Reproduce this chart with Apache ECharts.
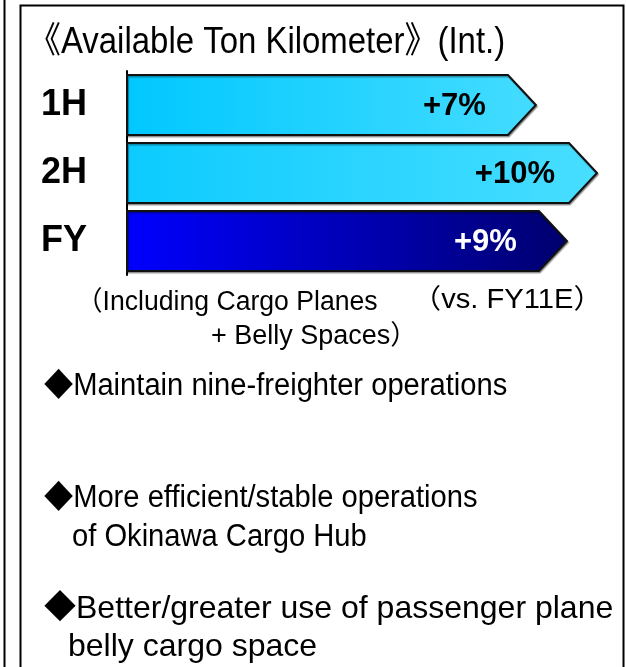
<!DOCTYPE html>
<html>
<head>
<meta charset="utf-8">
<script src="https://cdn.jsdelivr.net/npm/echarts@6/dist/echarts.min.js"></script>
<style>
  html, body { margin: 0; padding: 0; background: #fff; }
  #chart { width: 626px; height: 667px; }
</style>
</head>
<body>
<div id="chart"></div>
<script>
// ATK growth vs FY11E (international)
const periods = ['1H', '2H', 'FY'];
const growthLabels = ['+7%', '+10%', '+9%'];
// relative arrow length (2H = 100)
const arrowLength = [87, 100, 93.6];

const titleText = '《Available Ton Kilometer》(Int.)';
const noteLeft = ['（Including Cargo Planes', '+ Belly Spaces）'];
const noteRight = '（vs. FY11E）';
const bullets = [
  '◆Maintain nine-freighter operations',
  '◆More efficient/stable operations',
  'of Okinawa Cargo Hub',
  '◆Better/greater use of passenger plane',
  'belly cargo space'
];

const FONT = '"Liberation Sans", Arial, "Noto Sans CJK JP", sans-serif';

const fills = [
  new echarts.graphic.LinearGradient(0, 0, 1, 0, [
    { offset: 0, color: '#00c8ff' }, { offset: 1, color: '#44dcff' }
  ]),
  new echarts.graphic.LinearGradient(0, 0, 1, 0, [
    { offset: 0, color: '#0ccbff' }, { offset: 1, color: '#48deff' }
  ]),
  new echarts.graphic.LinearGradient(0, 0, 1, 0, [
    { offset: 0, color: '#0000ff' }, { offset: 1, color: '#00006e' }
  ])
];
const labelColors = ['#000', '#000', '#fff'];
const labelGap = [22, 14, 22];

const chart = echarts.init(document.getElementById('chart'));

function renderArrow(params, api) {
  const idx = api.value(0);
  const start = api.coord([0, idx]);
  const end = api.coord([api.value(1), idx]);
  const h = api.size([0, 1])[1] * 0.88;
  const tip = 28;
  const x0 = start[0], x1 = end[0], y = start[1];
  return {
    type: 'group',
    children: [
      {
        type: 'polygon',
        shape: {
          points: [
            [x0, y - h / 2], [x1 - tip, y - h / 2], [x1, y],
            [x1 - tip, y + h / 2], [x0, y + h / 2]
          ]
        },
        style: {
          fill: fills[idx],
          stroke: '#111',
          lineWidth: 2,
          shadowColor: 'rgba(0,0,0,0.35)',
          shadowOffsetX: 1,
          shadowOffsetY: 1.5,
          shadowBlur: 1
        }
      },
      {
        type: 'text',
        style: {
          text: growthLabels[idx],
          x: x1 - tip - labelGap[idx],
          y: y + 1,
          align: 'right',
          verticalAlign: 'middle',
          font: 'bold 31px ' + FONT,
          fill: labelColors[idx]
        }
      }
    ]
  };
}

// plain text block, width tuned to the slide
function label(text, x, y, size, sx) {
  return {
    type: 'text', x: x, y: y, scaleX: sx,
    style: { text: text, fontSize: size, fontFamily: FONT, fill: '#000', verticalAlign: 'middle' }
  };
}

const graphics = [
  // neighbouring panel edge and this panel's frame
  { type: 'line', shape: { x1: 4.5, y1: 0, x2: 4.5, y2: 667 }, style: { stroke: '#000', lineWidth: 2 } },
  { type: 'rect', shape: { x: 20.5, y: 5.5, width: 603, height: 700 }, style: { fill: 'none', stroke: '#000', lineWidth: 2 } },
  label(titleText, 28, 43, 36, 0.915),
  label(noteLeft[0], 76, 303, 27, 0.985),
  label(noteLeft[1], 211, 337, 27, 1.0),
  label(noteRight, 412, 301, 27, 1.08)
];
const bulletX = [44, 44, 72, 44, 68];
const bulletY = [386, 498, 537, 609, 647];
const bulletSize = [31, 31, 31, 32, 32];
const bulletScale = [0.94, 0.94, 0.94, 1.0, 1.0];
bullets.forEach((b, i) => {
  graphics.push(label(b, bulletX[i], bulletY[i], bulletSize[i], bulletScale[i]));
});

chart.setOption({
  animation: false,
  grid: { left: 127, right: 29, top: 71, height: 204 },
  xAxis: { type: 'value', min: 0, max: 100, show: false },
  yAxis: {
    type: 'category',
    data: periods,
    inverse: true,
    axisLine: { lineStyle: { color: '#000', width: 2 } },
    axisTick: { show: false },
    axisLabel: {
      align: 'left',
      margin: 86,
      fontSize: 36,
      fontWeight: 'bold',
      fontFamily: FONT,
      color: '#000'
    }
  },
  series: [{
    type: 'custom',
    renderItem: renderArrow,
    encode: { x: 1, y: 0 },
    data: arrowLength.map((v, i) => [i, v])
  }],
  graphic: graphics
});
</script>
</body>
</html>
